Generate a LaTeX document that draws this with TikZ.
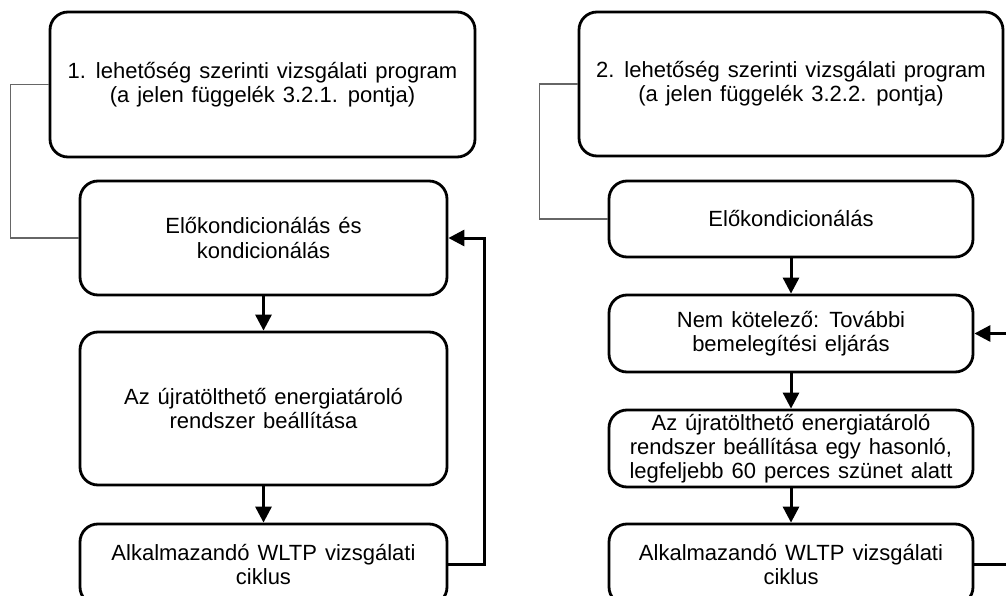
\documentclass[tikz,border=0pt]{standalone}
\usepackage{fontspec}
\setmainfont[WordSpace=1.3]{Liberation Sans}
\usetikzlibrary{arrows.meta}
\tikzset{
  box/.style={draw=black, line width=2.8pt, rounded corners=18pt, inner sep=0pt,
    align=center, font=\fontsize{22}{24.3}\selectfont, text=black},
  flow/.style={line width=3pt, -{Triangle[length=16pt,width=16pt]}},
  link/.style={draw=black!60, line width=1.1pt},
}
\begin{document}
\begin{tikzpicture}[x=1pt,y=-1pt]
\useasboundingbox (0,0) rectangle (1006,596);
\clip (0,0) rectangle (1006,596);
% left column
\node[box, minimum width=425pt, minimum height=145pt] (L1) at (262.5,84.5)
  {1. lehetőség szerinti vizsgálati program\\(a jelen függelék 3.2.1. pontja)};
\node[box, minimum width=367pt, minimum height=114pt] (L2) at (263.5,238)
  {Előkondicionálás és\\kondicionálás};
\node[box, minimum width=367pt, minimum height=153pt] (L3) at (263.5,408.5)
  {Az újratölthető energiatároló\\rendszer beállítása};
\node[box, minimum width=367pt, minimum height=81pt] (L4) at (263.5,564.5)
  {Alkalmazandó WLTP vizsgálati\\ciklus};
% right column
\node[box, minimum width=424pt, minimum height=144pt] (R1) at (791,84)
  {2. lehetőség szerinti vizsgálati program\\(a jelen függelék 3.2.2. pontja)};
\node[box, minimum width=364pt, minimum height=76pt] (R2) at (791,219)
  {Előkondicionálás};
\node[box, minimum width=364pt, minimum height=77pt] (R3) at (791,333.5)
  {Nem kötelező: További\\bemelegítési eljárás};
\node[box, minimum width=364pt, minimum height=77pt] (R4) at (791,448.5)
  {Az újratölthető energiatároló\\rendszer beállítása egy hasonló,\\legfeljebb 60 perces szünet alatt};
\node[box, minimum width=364pt, minimum height=81pt] (R5) at (791,564.5)
  {Alkalmazandó WLTP vizsgálati\\ciklus};
% thin grey links
\draw[link] (L1.west) -- ++(-38,0) |- (L2.west);
\draw[link] (R1.west) -- ++(-38,0) |- (R2.west);
% flow arrows
\draw[flow] (L2.south) -- (L3.north);
\draw[flow] (L3.south) -- (L4.north);
\draw[flow] (R2.south) -- (R3.north);
\draw[flow] (R3.south) -- (R4.north);
\draw[flow] (R4.south) -- (R5.north);
% feedback loops
\coordinate (lc) at ([xshift=36pt]L4.east);
\coordinate (rc) at ([xshift=40pt]R5.east);
\draw[flow] (L4.east) -- (lc) |- (L2.east);
\draw[flow] (R5.east) -- (rc) |- (R3.east);
\end{tikzpicture}
\end{document}
